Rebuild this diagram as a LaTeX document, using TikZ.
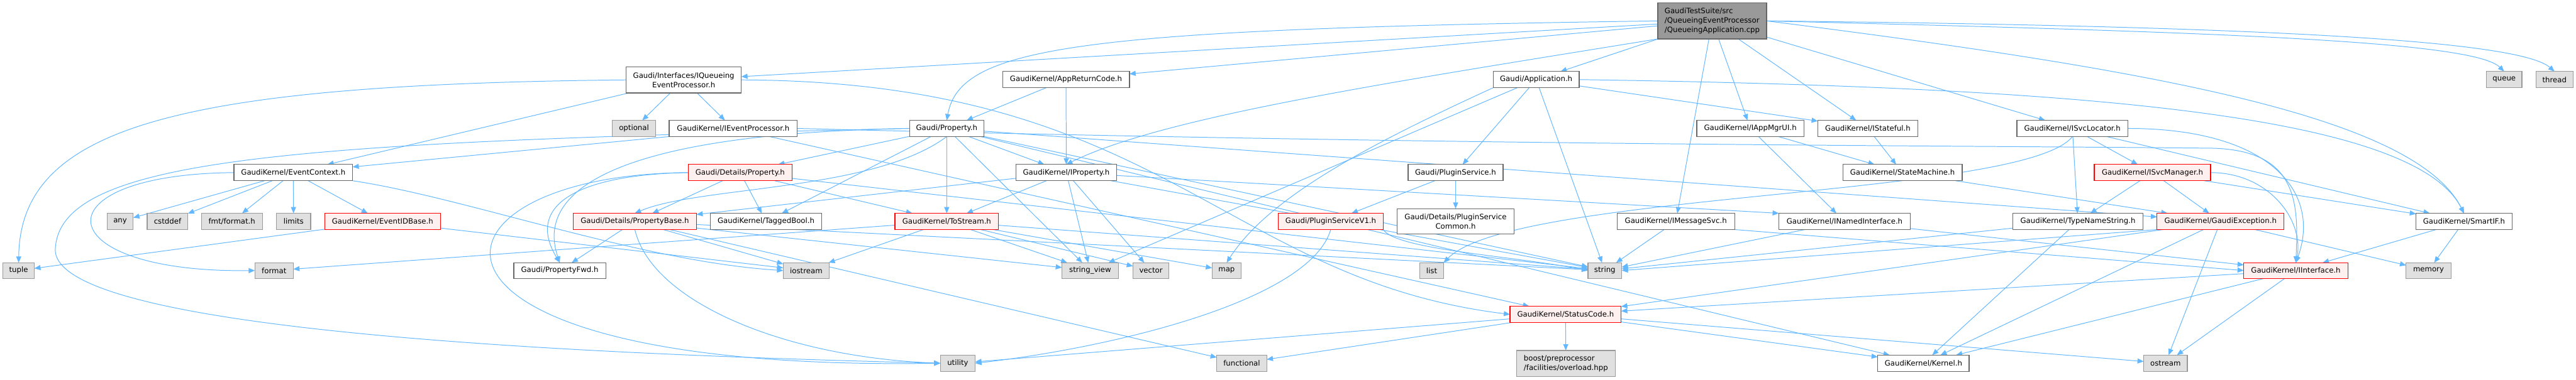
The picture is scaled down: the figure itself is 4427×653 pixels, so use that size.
\documentclass[tikz,border=0pt]{standalone}
\usepackage{fontspec}
\setmainfont{DejaVu Sans}
\usetikzlibrary{arrows.meta}
\definecolor{edgec}{HTML}{63B8FF}
\definecolor{rfill}{HTML}{FFF0F0}
\definecolor{rborder}{HTML}{FF0000}
\definecolor{wborder}{HTML}{666666}
\definecolor{gfill}{HTML}{E0E0E0}
\definecolor{gborder}{HTML}{999999}
\definecolor{mfill}{HTML}{999999}
\pgfdeclarelayer{bg}
\pgfsetlayers{bg,main}
\newcommand{\gbox}[7]{\node[#1, minimum width={(#5-#3)*0.75pt}, minimum height={(#6-#4)*0.75pt}] (#2) at ({(#3+#5)/2},{(#4+#6)/2}) {#7};}
\begin{document}
\begin{tikzpicture}[x=0.75pt,y=-0.75pt,
  base/.style={draw, line width=1pt, inner sep=0pt, outer sep=0pt, align=center, font=\fontsize{9.5}{12.2}\selectfont, text=black},
  wnode/.style={base, fill=white, draw=wborder},
  rnode/.style={base, fill=rfill, draw=rborder},
  gnode/.style={base, fill=gfill, draw=gborder},
  mnode/.style={base, fill=mfill, draw=wborder, align=left},
  e/.style={draw=edgec, line width=0.8pt, -{Triangle[length=8pt,width=6.5pt]}}]
\useasboundingbox (0,0) rectangle (4427,653);
% row 1
\gbox{mnode}{M}{2849}{5}{3036}{67}{GaudiTestSuite/src\\/QueueingEventProcessor\\/QueueingApplication.cpp}
% row 2
\gbox{wnode}{IQEP}{1076}{115}{1274}{160}{Gaudi/Interfaces/IQueueing\\EventProcessor.h}
\gbox{wnode}{ARC}{1723}{123}{1941}{151}{GaudiKernel/AppReturnCode.h}
\gbox{wnode}{App}{2566}{123}{2714}{151}{Gaudi/Application.h}
\gbox{gnode}{queue}{4273}{123}{4334}{151}{queue}
\gbox{gnode}{thread}{4358}{123}{4422}{151}{thread}
% row 3
\gbox{gnode}{optional}{1052}{207}{1127}{235}{optional}
\gbox{wnode}{IEvP}{1150}{207}{1370}{235}{GaudiKernel/IEventProcessor.h}
\gbox{wnode}{Prop}{1563}{207}{1691}{235}{Gaudi/Property.h}
\gbox{wnode}{IAppMgrUI}{2916}{207}{3100}{235}{GaudiKernel/IAppMgrUI.h}
\gbox{wnode}{IStateful}{3124}{207}{3296}{235}{GaudiKernel/IStateful.h}
\gbox{wnode}{ISvcLoc}{3466}{207}{3657}{235}{GaudiKernel/ISvcLocator.h}
% row 4
\gbox{wnode}{EvCtx}{402}{283}{606}{311}{GaudiKernel/EventContext.h}
\gbox{rnode}{DetProp}{1183}{283}{1361}{311}{Gaudi/Details/Property.h}
\gbox{wnode}{IProp}{1746}{283}{1919}{311}{GaudiKernel/IProperty.h}
\gbox{wnode}{PluginSvc}{2420}{283}{2583}{311}{Gaudi/PluginService.h}
\gbox{wnode}{StateMachine}{3167}{283}{3372}{311}{GaudiKernel/StateMachine.h}
\gbox{rnode}{ISvcMgr}{3599}{283}{3799}{311}{GaudiKernel/ISvcManager.h}
% row 5
\gbox{gnode}{any}{184}{367}{229}{395}{any}
\gbox{gnode}{cstddef}{253}{367}{323}{395}{cstddef}
\gbox{gnode}{fmt}{346}{367}{451}{395}{fmt/format.h}
\gbox{gnode}{limits}{475}{367}{534}{395}{limits}
\gbox{rnode}{EvIDBase}{558}{367}{757}{395}{GaudiKernel/EventIDBase.h}
\gbox{rnode}{PropBase}{985}{367}{1197}{395}{Gaudi/Details/PropertyBase.h}
\gbox{wnode}{TaggedBool}{1221}{367}{1412}{395}{GaudiKernel/TaggedBool.h}
\gbox{rnode}{ToStream}{1538}{367}{1716}{395}{GaudiKernel/ToStream.h}
\gbox{rnode}{PSV1}{2197}{367}{2377}{395}{Gaudi/PluginServiceV1.h}
\gbox{wnode}{PSCommon}{2401}{359}{2602}{403}{Gaudi/Details/PluginService\\Common.h}
\gbox{wnode}{IMsgSvc}{2779}{367}{2981}{395}{GaudiKernel/IMessageSvc.h}
\gbox{wnode}{INamedIf}{3057}{367}{3283}{395}{GaudiKernel/INamedInterface.h}
\gbox{wnode}{TNS}{3459}{367}{3683}{395}{GaudiKernel/TypeNameString.h}
\gbox{rnode}{GaudiExc}{3707}{367}{3925}{395}{GaudiKernel/GaudiException.h}
\gbox{wnode}{SmartIF}{4152}{367}{4317}{395}{GaudiKernel/SmartIF.h}
% row 6
\gbox{gnode}{tuple}{5}{452}{59}{479}{tuple}
\gbox{gnode}{format}{438}{452}{504}{479}{format}
\gbox{wnode}{PropFwd}{883}{452}{1041}{479}{Gaudi/PropertyFwd.h}
\gbox{gnode}{iostream}{1346}{452}{1425}{479}{iostream}
\gbox{gnode}{sview}{1825}{452}{1922}{479}{string\_view}
\gbox{gnode}{vector}{1947}{452}{2009}{479}{vector}
\gbox{gnode}{map}{2083}{452}{2133}{479}{map}
\gbox{gnode}{list}{2440}{452}{2481}{479}{list}
\gbox{gnode}{string}{2729}{452}{2787}{479}{string}
\gbox{rnode}{IInterface}{3856}{452}{4035}{479}{GaudiKernel/IInterface.h}
\gbox{gnode}{memory}{4135}{452}{4212}{479}{memory}
% row 7-8
\gbox{rnode}{StatusCode}{2595}{527}{2786}{555}{GaudiKernel/StatusCode.h}
\gbox{gnode}{utility}{1616}{611}{1676}{639}{utility}
\gbox{gnode}{functional}{2091}{611}{2177}{639}{functional}
\gbox{gnode,align=left}{boost}{2606}{603}{2776}{648}{boost/preprocessor\\/facilities/overload.hpp}
\gbox{wnode}{Kernel}{3227}{611}{3384}{639}{GaudiKernel/Kernel.h}
\gbox{gnode}{ostream}{3684}{611}{3759}{639}{ostream}

\begin{pgfonlayer}{bg}
\fill[white] (0,0) rectangle (4427,653);
% main file
\draw[e] (M) -- (IQEP);
\draw[e] (M) -- (ARC);
\draw[e] (M) -- (App);
\draw[e] (M.west) .. controls (1850,50) and (1650,80) .. (Prop.north);
\draw[e] (M) -- (IAppMgrUI);
\draw[e] (M) -- (IStateful);
\draw[e] (M) -- (ISvcLoc);
\draw[e] (M.south west) .. controls (2400,140) and (2000,200) .. (IProp.north);
\draw[e] (M) -- (IMsgSvc);
\draw[e] (M.east) .. controls (3700,120) and (4150,200) .. (SmartIF.north);
\draw[e] (M.east) .. controls (3800,55) and (4250,70) .. (queue.north);
\draw[e] (M.east) .. controls (3900,45) and (4330,70) .. (thread.north);
% IQueueingEventProcessor
\draw[e] (IQEP) -- (EvCtx);
\draw[e] (IQEP) -- (IEvP);
\draw[e] (IQEP) -- (optional);
\draw[e] (IQEP.west) .. controls (300,145) and (35,220) .. (tuple.north);
\draw[e] (IQEP.east) .. controls (2000,140) and (2100,480) .. (StatusCode.west);
% AppReturnCode
\draw[e] (ARC) -- (Prop);
\draw[e] (ARC) -- (IProp);
% Application
\draw[e] (App) -- (PluginSvc);
\draw[e] (App) -- (IStateful);
\draw[e] (App.east) .. controls (3600,150) and (4150,200) .. (SmartIF.north);
\draw[e] (App) -- (string);
\draw[e] (App) -- (sview);
\draw[e] (App.south west) .. controls (2350,250) and (2180,340) .. (map.north);
% IEventProcessor
\draw[e] (IEvP.south west) -- (EvCtx);
\draw[e] (IEvP.east) .. controls (2500,250) and (3300,250) .. (3800,255) .. controls (3950,258) and (3950,350) .. (IInterface.north);
\draw[e] (IEvP) -- (StatusCode);
% Gaudi/Property.h
\draw[e] (Prop) -- (DetProp);
\draw[e] (Prop.south) .. controls (1500,330) and (1200,320) .. (PropBase.north);
\draw[e] (Prop.west) .. controls (1050,230) and (920,330) .. (PropFwd.north);
\draw[e] (Prop) -- (IProp);
\draw[e] (Prop) -- (TaggedBool);
\draw[e] (Prop) -- (ToStream);
\draw[e] (Prop) -- (string);
\draw[e] (Prop) -- (sview);
\draw[e] (Prop.west) .. controls (500,245) and (100,270) .. (95,430) .. controls (95,570) and (1000,610) .. (utility.west);
\draw[e] (Prop) -- (Kernel);
\draw[e] (Prop) -- (GaudiExc);
% IAppMgrUI, IStateful
\draw[e] (IAppMgrUI) -- (INamedIf);
\draw[e] (IAppMgrUI) -- (StateMachine);
\draw[e] (IStateful) -- (StateMachine);
% ISvcLocator
\draw[e] (ISvcLoc) -- (ISvcMgr);
\draw[e] (ISvcLoc) -- (TNS);
\draw[e] (ISvcLoc) -- (SmartIF);
\draw[e] (ISvcLoc.east) .. controls (3900,221) and (3990,330) .. (IInterface.north);
\draw[e] (ISvcLoc.south) .. controls (3480,340) and (2600,330) .. (list.north east);
% EventContext
\draw[e] (EvCtx) -- (any);
\draw[e] (EvCtx) -- (cstddef);
\draw[e] (EvCtx) -- (fmt);
\draw[e] (EvCtx) -- (limits);
\draw[e] (EvCtx) -- (EvIDBase);
\draw[e] (EvCtx.west) .. controls (60,300) and (80,470) .. (format.west);
\draw[e] (EvCtx.south east) .. controls (800,340) and (1100,450) .. (iostream.west);
% Details/Property
\draw[e] (DetProp) -- (PropBase);
\draw[e] (DetProp) -- (TaggedBool);
\draw[e] (DetProp) -- (ToStream);
\draw[e] (DetProp.west) .. controls (1000,300) and (900,350) .. (PropFwd.north);
\draw[e] (DetProp.west) .. controls (700,300) and (640,640) .. (utility.west);
\draw[e] (DetProp) -- (string);
% IProperty
\draw[e] (IProp) -- (ToStream);
\draw[e] (IProp) -- (PropBase);
\draw[e] (IProp) -- (INamedIf.north west);
\draw[e] (IProp) -- (sview);
\draw[e] (IProp) -- (vector);
\draw[e] (IProp) -- (string);
% PluginService
\draw[e] (PluginSvc) -- (PSV1);
\draw[e] (PluginSvc) -- (PSCommon);
% StateMachine, ISvcManager
\draw[e] (StateMachine) -- (GaudiExc);
\draw[e] (ISvcMgr) -- (TNS);
\draw[e] (ISvcMgr.east) .. controls (3900,297) and (3960,380) .. (IInterface.north);
\draw[e] (ISvcMgr) -- (SmartIF);
\draw[e] (ISvcMgr) -- (GaudiExc);
% EventIDBase
\draw[e] (EvIDBase) -- (tuple);
\draw[e] (EvIDBase) -- (iostream);
% PropertyBase
\draw[e] (PropBase) -- (PropFwd);
\draw[e] (PropBase) -- (iostream);
\draw[e] (PropBase) -- (string);
\draw[e] (PropBase) -- (sview);
\draw[e] (PropBase.south) .. controls (1120,520) and (1350,615) .. (utility.west);
\draw[e] (PropBase) -- (functional);
% ToStream
\draw[e] (ToStream) -- (format);
\draw[e] (ToStream) -- (iostream);
\draw[e] (ToStream) -- (sview);
\draw[e] (ToStream) -- (vector);
\draw[e] (ToStream) -- (map);
\draw[e] (ToStream) -- (string);
% PluginServiceV1
\draw[e] (PSV1.south east) .. controls (2400,430) and (2600,440) .. (string.west);
\draw[e] (PSV1.south) .. controls (2250,520) and (1900,600) .. (utility.east);
% IMessageSvc, INamedInterface, TypeNameString
\draw[e] (IMsgSvc) -- (string);
\draw[e] (IMsgSvc.south east) -- (IInterface.west);
\draw[e] (INamedIf) -- (IInterface);
\draw[e] (INamedIf) -- (string);
\draw[e] (TNS) -- (string);
\draw[e] (TNS) -- (Kernel);
% GaudiException
\draw[e] (GaudiExc) -- (StatusCode);
\draw[e] (GaudiExc) -- (Kernel);
\draw[e] (GaudiExc) -- (ostream);
\draw[e] (GaudiExc.south west) -- (string.east);
\draw[e] (GaudiExc) -- (memory);
% SmartIF, IInterface
\draw[e] (SmartIF) -- (IInterface);
\draw[e] (SmartIF) -- (memory);
\draw[e] (IInterface) -- (StatusCode);
\draw[e] (IInterface) -- (Kernel);
\draw[e] (IInterface) -- (ostream);
% StatusCode
\draw[e] (StatusCode) -- (boost);
\draw[e] (StatusCode) -- (utility);
\draw[e] (StatusCode) -- (functional);
\draw[e] (StatusCode) -- (ostream);
\draw[e] (StatusCode) -- (Kernel);
\end{pgfonlayer}
\end{tikzpicture}
\end{document}
